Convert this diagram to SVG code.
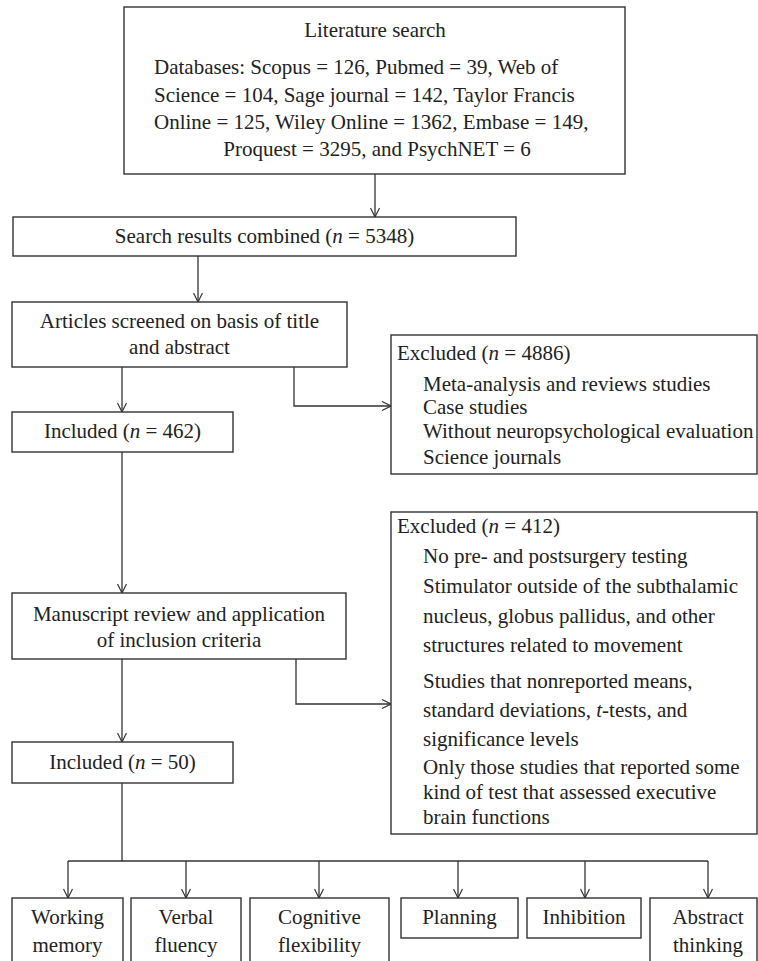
<svg xmlns="http://www.w3.org/2000/svg" width="758" height="961" viewBox="0 0 758 961" font-family="'Liberation Serif', 'Times New Roman', serif">
<style>
text{font-family:"Liberation Serif","Times New Roman",serif;font-size:21px;fill:#222}
.c{text-anchor:middle}
.box{fill:#fff;stroke:#333;stroke-width:1.4}
.ln{fill:none;stroke:#333;stroke-width:1.3}
.i{font-style:italic}
</style>
<defs>
<marker id="arr" viewBox="0 0 10 10" refX="10" refY="5" markerWidth="10" markerHeight="10" markerUnits="userSpaceOnUse" orient="auto">
<path d="M1,0.5 L10,5 L1,9.5" fill="none" stroke="#333" stroke-width="1.2"/>
</marker>
</defs>
<rect width="758" height="961" fill="#fff"/>
<g id="connectors">
<path class="ln" d="M375,174 V217" marker-end="url(#arr)"/>
<path class="ln" d="M198,256 V302" marker-end="url(#arr)"/>
<path class="ln" d="M122,367 V412" marker-end="url(#arr)"/>
<path class="ln" d="M294,367 V406 H391" marker-end="url(#arr)"/>
<path class="ln" d="M122,452 V593" marker-end="url(#arr)"/>
<path class="ln" d="M122,659 V742" marker-end="url(#arr)"/>
<path class="ln" d="M296,659 V704 H391" marker-end="url(#arr)"/>
<path class="ln" d="M122,783 V861"/>
<path class="ln" d="M68,861 H708"/>
<path class="ln" d="M68,861 V898" marker-end="url(#arr)"/>
<path class="ln" d="M186,861 V898" marker-end="url(#arr)"/>
<path class="ln" d="M319,861 V898" marker-end="url(#arr)"/>
<path class="ln" d="M458,861 V898" marker-end="url(#arr)"/>
<path class="ln" d="M585,861 V898" marker-end="url(#arr)"/>
<path class="ln" d="M708,861 V898" marker-end="url(#arr)"/>
</g>
<g id="literature">
<rect class="box" x="124" y="7" width="501" height="167"/>
<text class="c" x="375" y="37">Literature search</text>
<text x="154" y="74">Databases: Scopus = 126, Pubmed = 39, Web of</text>
<text x="154" y="102">Science = 104, Sage journal = 142, Taylor Francis</text>
<text x="154" y="129">Online = 125, Wiley Online = 1362, Embase = 149,</text>
<text class="c" x="377" y="156">Proquest = 3295, and PsychNET = 6</text>
</g>
<g id="combined">
<rect class="box" x="13" y="217" width="503" height="39"/>
<text class="c" x="264.5" y="243">Search results combined (<tspan class="i">n</tspan> = 5348)</text>
</g>
<g id="screened">
<rect class="box" x="12" y="302" width="335" height="65"/>
<text class="c" x="179.5" y="328">Articles screened on basis of title</text>
<text class="c" x="179.5" y="354">and abstract</text>
</g>
<g id="included462">
<rect class="box" x="12" y="412" width="221" height="40"/>
<text class="c" x="122.5" y="438">Included (<tspan class="i">n</tspan> = 462)</text>
</g>
<g id="excluded4886">
<rect class="box" x="391" y="335" width="366" height="139"/>
<text x="397" y="360">Excluded (<tspan class="i">n</tspan> = 4886)</text>
<text x="423" y="391">Meta-analysis and reviews studies</text>
<text x="423" y="414">Case studies</text>
<text x="423" y="438">Without neuropsychological evaluation</text>
<text x="423" y="464">Science journals</text>
</g>
<g id="manuscript">
<rect class="box" x="12" y="593" width="334" height="66"/>
<text class="c" x="179" y="621">Manuscript review and application</text>
<text class="c" x="179" y="647">of inclusion criteria</text>
</g>
<g id="excluded412">
<rect class="box" x="391" y="512" width="366" height="322"/>
<text x="397" y="533">Excluded (<tspan class="i">n</tspan> = 412)</text>
<text x="423" y="563">No pre- and postsurgery testing</text>
<text x="423" y="593">Stimulator outside of the subthalamic</text>
<text x="423" y="623">nucleus, globus pallidus, and other</text>
<text x="423" y="652">structures related to movement</text>
<text x="423" y="688">Studies that nonreported means,</text>
<text x="423" y="717">standard deviations, <tspan class="i">t</tspan>-tests, and</text>
<text x="423" y="746">significance levels</text>
<text x="423" y="774">Only those studies that reported some</text>
<text x="423" y="799">kind of test that assessed executive</text>
<text x="423" y="824">brain functions</text>
</g>
<g id="included50">
<rect class="box" x="12" y="742" width="221" height="41"/>
<text class="c" x="122.5" y="769">Included (<tspan class="i">n</tspan> = 50)</text>
</g>
<g id="working-memory">
<rect class="box" x="12" y="898" width="111" height="80"/>
<text class="c" x="67.5" y="924">Working</text>
<text class="c" x="67.5" y="952">memory</text>
</g>
<g id="verbal-fluency">
<rect class="box" x="131" y="898" width="110" height="80"/>
<text class="c" x="186" y="924">Verbal</text>
<text class="c" x="186" y="952">fluency</text>
</g>
<g id="cognitive-flexibility">
<rect class="box" x="250" y="898" width="139" height="80"/>
<text class="c" x="319.5" y="924">Cognitive</text>
<text class="c" x="319.5" y="952">flexibility</text>
</g>
<g id="planning">
<rect class="box" x="401" y="898" width="117" height="40"/>
<text class="c" x="459.5" y="924">Planning</text>
</g>
<g id="inhibition">
<rect class="box" x="527" y="898" width="114" height="40"/>
<text class="c" x="584" y="924">Inhibition</text>
</g>
<g id="abstract-thinking">
<rect class="box" x="650" y="898" width="107" height="80"/>
<text class="c" x="708" y="924">Abstract</text>
<text class="c" x="708" y="952">thinking</text>
</g>
</svg>
